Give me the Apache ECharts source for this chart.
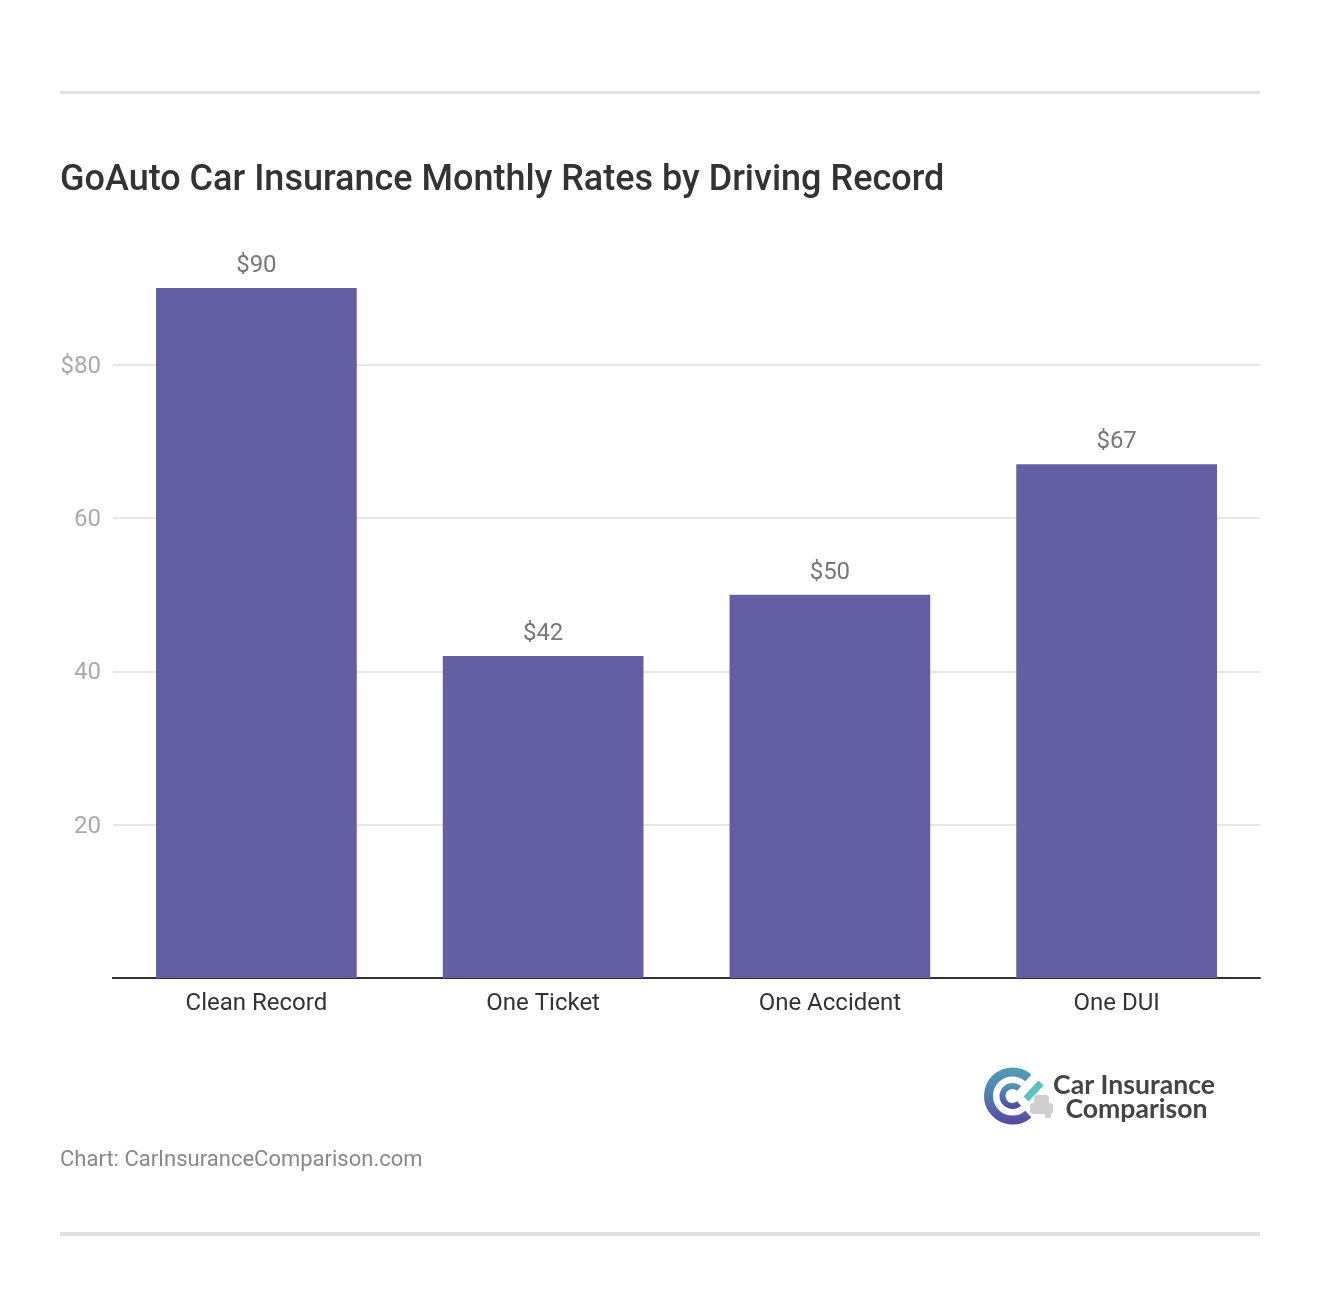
<!DOCTYPE html>
<html>
<head>
<meta charset="utf-8">
<style>
html, body { margin: 0; padding: 0; background: #fff; }
#main { width: 1320px; height: 1316px; }
</style>
<script src="https://cdn.jsdelivr.net/npm/echarts@6/dist/echarts.min.js"></script>
</head>
<body>
<div id="main"></div>
<script>
var categories = ['Clean Record', 'One Ticket', 'One Accident', 'One DUI'];
var rates = [90, 42, 50, 67];
var yTicks = { 20: '20', 40: '40', 60: '60', 80: '$80' };

var myChart = echarts.init(document.getElementById('main'));
var font = 'Roboto';

var option = {
    backgroundColor: '#fff',
    animation: false,
    title: {
        text: 'GoAuto Car Insurance Monthly Rates by Driving Record',
        left: 60,
        top: 163,
        padding: 0,
        textStyle: { fontFamily: font, fontSize: 36, fontWeight: 500, color: '#333' }
    },
    grid: { left: 113, right: 60, top: 288, height: 690 },
    xAxis: {
        type: 'category',
        data: categories,
        axisTick: { show: false },
        axisLine: { lineStyle: { color: '#333', width: 2 } },
        axisLabel: { fontFamily: font, fontSize: 24, color: '#333', margin: 14 }
    },
    yAxis: {
        type: 'value',
        min: 0,
        max: 90,
        interval: 20,
        axisLine: { show: false },
        axisTick: { show: false },
        splitLine: { showMinLine: false, showMaxLine: false, lineStyle: { color: '#e6e6e6', width: 2 } },
        axisLabel: {
            margin: 12,
            formatter: function (v) { return yTicks[v] ? '{t|' + yTicks[v] + '}' : ''; },
            rich: { t: { fontFamily: font, fontSize: 24, color: '#aaa', padding: [4, 0, 0, 0] } }
        }
    },
    series: [{
        type: 'bar',
        data: rates,
        barWidth: '70%',
        itemStyle: { color: '#645ea5' },
        label: {
            show: true,
            position: 'top',
            distance: 10,
            formatter: '${c}',
            fontFamily: font,
            fontSize: 24,
            color: '#777'
        }
    }],
    graphic: [
        { type: 'rect', shape: { x: 60, y: 91, width: 1200, height: 3 }, style: { fill: '#e0e0e0' } },
        { type: 'rect', shape: { x: 60, y: 1232, width: 1200, height: 4 }, style: { fill: '#e0e0e0' } },
        { type: 'rect', shape: { x: 112, y: 977, width: 2, height: 2 }, style: { fill: '#333' } },
        { type: 'text', x: 60, y: 1149, style: { text: 'Chart: CarInsuranceComparison.com', fontFamily: font, fontSize: 22, fill: '#888' } },
        // logo
        { type: 'arc', shape: { cx: 1012.5, cy: 1096, r: 24, startAngle: Math.PI * 0.27, endAngle: -Math.PI * 0.27, clockwise: true },
          style: { fill: null, lineWidth: 9, stroke: new echarts.graphic.LinearGradient(0, 0, 0, 1, [{ offset: 0, color: '#4f9fb5' }, { offset: 0.5, color: '#4f7fb0' }, { offset: 1, color: '#5a45a0' }]) } },
        { type: 'arc', shape: { cx: 1012.5, cy: 1096, r: 10, startAngle: Math.PI * 0.27, endAngle: -Math.PI * 0.27, clockwise: true },
          style: { fill: null, lineWidth: 6, stroke: new echarts.graphic.LinearGradient(0, 0, 0, 1, [{ offset: 0, color: '#4f9fb5' }, { offset: 1, color: '#4a4aa0' }]) } },
        { type: 'line', shape: { x1: 1026, y1: 1099, x2: 1041, y2: 1083 }, style: { stroke: '#52c7c0', lineWidth: 7 } },
        { type: 'rect', shape: { x: 1030, y: 1103, width: 23, height: 11, r: 3 }, style: { fill: '#cfcfcf' } },
        { type: 'rect', shape: { x: 1034, y: 1095, width: 15, height: 10, r: 3 }, style: { fill: '#cfcfcf' } },
        { type: 'rect', shape: { x: 1045, y: 1113, width: 6, height: 5, r: 1 }, style: { fill: '#cfcfcf' } },
        { type: 'text', x: 1134, y: 1072, style: { text: 'Car Insurance', align: 'center', fontFamily: 'Lato', fontWeight: 700, fontSize: 26.6, fill: '#444' } },
        { type: 'text', x: 1136.5, y: 1096, style: { text: 'Comparison', align: 'center', fontFamily: 'Lato', fontWeight: 700, fontSize: 26.6, fill: '#444' } }
    ]
};

myChart.setOption(option);
</script>
</body>
</html>
